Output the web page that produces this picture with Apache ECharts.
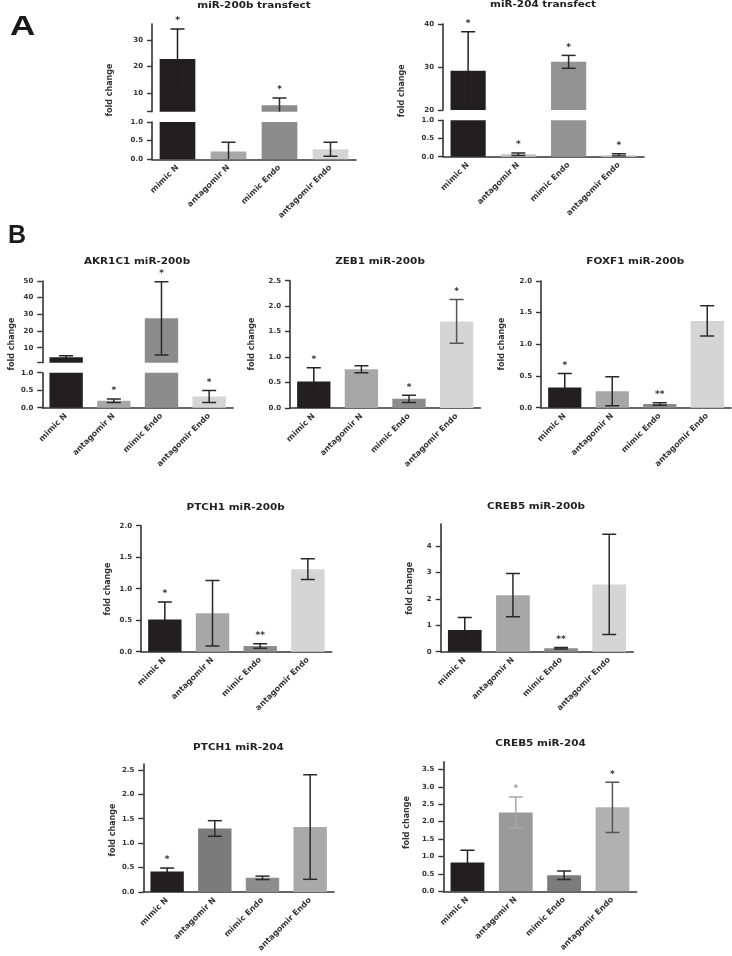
<!DOCTYPE html>
<html><head><meta charset="utf-8">
<script src="https://cdn.jsdelivr.net/npm/echarts@6/dist/echarts.min.js"></script>
<style>html,body{margin:0;padding:0;background:#fff}#c{width:732px;height:956px}</style>
</head><body><div id="c"></div>
<script>
// ---------- data ----------
const categories = ['mimic N', 'antagomir N', 'mimic Endo', 'antagomir Endo'];

const a1Mean = [22.8, 0.21, 5.4, 0.27];
const a1Sd   = [11.3, 0.25, 2.8, 0.19];
const a1Sig  = ['*', '', '*', ''];

const a2Mean = [29.1, 0.07, 31.2, 0.05];
const a2Sd   = [9.1, 0.035, 1.5, 0.03];
const a2Sig  = ['*', '*', '*', '*'];

const akrMean = [4.3, 0.2, 27.6, 0.32];
const akrSd   = [0.9, 0.05, 22.0, 0.17];
const akrSig  = ['', '*', '*', '*'];

const zebMean = [0.52, 0.76, 0.18, 1.70];
const zebSd   = [0.27, 0.07, 0.07, 0.43];
const zebSig  = ['*', '', '*', '*'];

const foxMean = [0.32, 0.26, 0.06, 1.37];
const foxSd   = [0.22, 0.23, 0.02, 0.24];
const foxSig  = ['*', '', '**', ''];

const ptch200Mean = [0.51, 0.61, 0.09, 1.31];
const ptch200Sd   = [0.28, 0.52, 0.035, 0.165];
const ptch200Sig  = ['*', '', '**', ''];

const creb200Mean = [0.82, 2.14, 0.13, 2.55];
const creb200Sd   = [0.48, 0.82, 0.03, 1.9];
const creb200Sig  = ['', '', '**', ''];

const ptch204Mean = [0.42, 1.30, 0.29, 1.33];
const ptch204Sd   = [0.07, 0.16, 0.035, 1.07];
const ptch204Sig  = ['*', '', '', ''];

const creb204Mean = [0.83, 2.26, 0.46, 2.41];
const creb204Sd   = [0.35, 0.45, 0.12, 0.72];
const creb204Sig  = ['', '*', '', '*'];

// tick values
const a1UpperTicks = [10, 20, 30];
const a2UpperTicks = [20, 30, 40];
const akrUpperTicks = [10, 20, 30, 40, 50];
const brokenLowerTicks = [0, 0.5, 1.0];
const ticks25 = [0, 0.5, 1.0, 1.5, 2.0, 2.5];
const ticks20 = [0, 0.5, 1.0, 1.5, 2.0];
const ticks4 = [0, 1, 2, 3, 4];
const ticks35 = [0, 0.5, 1.0, 1.5, 2.0, 2.5, 3.0, 3.5];

// ---------- styles ----------
const FONT = '"DejaVu Sans"';
const AX = '#333333';
const colorsStd = ['#231f20', '#a7a7a7', '#8c8c8c', '#d5d5d5'];
const colorsA2  = ['#231f20', '#c6c6c6', '#939393', '#d8d8d8'];
const colorsB6  = ['#231f20', '#7b7b7b', '#8d8d8d', '#a9a9a9'];
const colorsB7  = ['#231f20', '#9a9a9a', '#7c7c7c', '#b1b1b1'];
const errStd = ['#231f20', '#2a2a2a', '#2a2a2a', '#2a2a2a'];
const errB2 = ['#231f20', '#2a2a2a', '#2a2a2a', '#555555'];
const errB7 = ['#231f20', '#a8a8a8', '#2a2a2a', '#555555'];

const option = { animation: false, grid: [], xAxis: [], yAxis: [], series: [], graphic: [] };

function fmt(d) { return v => Number(v).toFixed(d); }

function errRender(colors, min, max) {
  return function (params, api) {
    const i = api.value(0), lo = api.value(1), hi = api.value(2);
    if (hi <= min || lo >= max) return null;
    const loC = Math.max(lo, min), hiC = Math.min(hi, max);
    const pHi = api.coord([i, hiC]), pLo = api.coord([i, loC]);
    const x = pHi[0], w = 7;
    const st = { stroke: colors[params.dataIndex], lineWidth: 1.5 };
    const children = [{ type: 'line', shape: { x1: x, y1: pHi[1], x2: x, y2: pLo[1] }, style: st }];
    if (hi <= max) children.push({ type: 'line', shape: { x1: x - w, y1: pHi[1], x2: x + w, y2: pHi[1] }, style: st });
    if (lo >= min) children.push({ type: 'line', shape: { x1: x - w, y1: pLo[1], x2: x + w, y2: pLo[1] }, style: st });
    return { type: 'group', children: children };
  };
}
function starRender(sig, min, max, colors) {
  return function (params, api) {
    const i = api.value(0), hi = api.value(1);
    const s = sig[params.dataIndex];
    if (!s || hi < min || hi > max) return null;
    const p = api.coord([i, hi]);
    return { type: 'text', x: p[0], y: p[1] - 8,
      style: { text: s, align: 'center', verticalAlign: 'middle', font: 'bold 9px ' + FONT,
        fill: colors[params.dataIndex] === '#a8a8a8' ? '#9a9a9a' : '#333' } };
  };
}

function addSeg(p, seg, showX) {
  const gi = option.grid.length;
  option.grid.push({ left: p.left, top: seg.top, width: p.width, height: seg.height });
  option.xAxis.push({ type: 'category', gridIndex: gi, data: categories, show: showX,
    axisLine: { show: true, lineStyle: { color: AX, width: 1.6 } }, axisTick: { show: false },
    axisLabel: { rotate: 45, margin: 7, interval: 0, color: '#333', fontFamily: FONT, fontWeight: 'bold', fontSize: 8 } });
  option.yAxis.push({ type: 'value', gridIndex: gi, min: seg.min, max: seg.max, splitLine: { show: false },
    axisLine: { show: true, lineStyle: { color: AX, width: 1.6 } },
    axisTick: { show: true, length: 5, lineStyle: { color: AX, width: 1.4 }, customValues: seg.tickVals },
    axisLabel: { customValues: seg.labelVals, formatter: fmt(seg.dec), margin: 9, color: '#333',
      fontFamily: FONT, fontWeight: 'bold', fontSize: 7 } });
  const data = p.mean.map((v, i) => (v > seg.min ? { value: v, itemStyle: { color: p.colors[i] } } : '-'));
  option.series.push({ type: 'bar', xAxisIndex: gi, yAxisIndex: gi, data: data, barWidth: '70%', clip: true, silent: true });
  option.series.push({ type: 'custom', xAxisIndex: gi, yAxisIndex: gi, clip: true, silent: true, z: 4,
    data: p.mean.map((v, i) => [i, v - p.sd[i], v + p.sd[i]]), renderItem: errRender(p.err, seg.min, seg.max) });
  option.series.push({ type: 'custom', xAxisIndex: gi, yAxisIndex: gi, silent: true, z: 5,
    data: p.mean.map((v, i) => [i, v + p.sd[i]]), renderItem: starRender(p.sig, seg.min, seg.max, p.err) });
}

function addPanel(p) {
  if (p.upper) { addSeg(p, p.upper, false); }
  addSeg(p, p.lower, true);
  option.graphic.push({ type: 'text', x: p.tx, y: p.ty, scaleX: 1.1,
    style: { text: p.title, align: 'center', verticalAlign: 'middle', font: 'bold 9.5px ' + FONT, fill: '#222' } });
  option.graphic.push({ type: 'text', x: p.lx, y: p.ly, rotation: Math.PI / 2,
    style: { text: 'fold change', align: 'center', verticalAlign: 'middle', font: 'bold 8px ' + FONT, fill: '#333' } });
}

const lowerBroken = (top, height) => ({ top: top, height: height, min: 0, max: 1, tickVals: brokenLowerTicks, labelVals: brokenLowerTicks, dec: 1 });

addPanel({ title: 'miR-200b transfect', tx: 254, ty: 5.5, lx: 110, ly: 90, left: 152, width: 204,
  mean: a1Mean, sd: a1Sd, sig: a1Sig, colors: colorsStd, err: errStd,
  upper: { top: 24, height: 87.7, min: 3, max: 36, tickVals: [3].concat(a1UpperTicks), labelVals: a1UpperTicks, dec: 0 },
  lower: lowerBroken(122, 37.3) });

addPanel({ title: 'miR-204 transfect', tx: 543, ty: 5, lx: 401.7, ly: 90.8, left: 443, width: 201,
  mean: a2Mean, sd: a2Sd, sig: a2Sig, colors: colorsA2, err: errStd,
  upper: { top: 24, height: 86, min: 20, max: 40, tickVals: a2UpperTicks, labelVals: a2UpperTicks, dec: 0 },
  lower: lowerBroken(120.3, 36.4) });

addPanel({ title: 'AKR1C1 miR-200b', tx: 137, ty: 261.7, lx: 11.7, ly: 344, left: 42.3, width: 190.7,
  mean: akrMean, sd: akrSd, sig: akrSig, colors: colorsStd, err: errStd,
  upper: { top: 281, height: 81.7, min: 1, max: 50, tickVals: [1].concat(akrUpperTicks), labelVals: akrUpperTicks, dec: 0 },
  lower: lowerBroken(372.7, 35) });

addPanel({ title: 'ZEB1 miR-200b', tx: 380, ty: 261.7, lx: 252, ly: 344, left: 290, width: 190.4,
  mean: zebMean, sd: zebSd, sig: zebSig, colors: colorsStd, err: errB2,
  lower: { top: 280.7, height: 127.3, min: 0, max: 2.5, tickVals: ticks25, labelVals: ticks25, dec: 1 } });

addPanel({ title: 'FOXF1 miR-200b', tx: 635.3, ty: 261.7, lx: 501.7, ly: 344, left: 541, width: 190,
  mean: foxMean, sd: foxSd, sig: foxSig, colors: colorsStd, err: errStd,
  lower: { top: 281, height: 126.7, min: 0, max: 2.0, tickVals: ticks20, labelVals: ticks20, dec: 1 } });

addPanel({ title: 'PTCH1 miR-200b', tx: 235.7, ty: 507.5, lx: 108, ly: 589, left: 141, width: 190.7,
  mean: ptch200Mean, sd: ptch200Sd, sig: ptch200Sig, colors: colorsStd, err: errStd,
  lower: { top: 525.7, height: 126, min: 0, max: 2.0, tickVals: ticks20, labelVals: ticks20, dec: 1 } });

addPanel({ title: 'CREB5 miR-200b', tx: 536, ty: 506.7, lx: 409.7, ly: 588.3, left: 440.7, width: 192.6,
  mean: creb200Mean, sd: creb200Sd, sig: creb200Sig, colors: colorsStd, err: errStd,
  lower: { top: 524, height: 127.7, min: 0, max: 4.84, tickVals: ticks4, labelVals: ticks4, dec: 0 } });

addPanel({ title: 'PTCH1 miR-204', tx: 238.5, ty: 747.5, lx: 113, ly: 830, left: 143.3, width: 190.7,
  mean: ptch204Mean, sd: ptch204Sd, sig: ptch204Sig, colors: colorsB6, err: errStd,
  lower: { top: 764, height: 128, min: 0, max: 2.62, tickVals: ticks25, labelVals: ticks25, dec: 1 } });

addPanel({ title: 'CREB5 miR-204', tx: 540.5, ty: 743.3, lx: 407, ly: 822.5, left: 443.3, width: 193.3,
  mean: creb204Mean, sd: creb204Sd, sig: creb204Sig, colors: colorsB7, err: errB7,
  lower: { top: 761.7, height: 129.6, min: 0, max: 3.72, tickVals: ticks35, labelVals: ticks35, dec: 1 } });

option.graphic.push({ type: 'text', x: 10, y: 27.8, scaleX: 1.3,
  style: { text: 'A', verticalAlign: 'middle', font: 'bold 27px "Liberation Sans"', fill: '#1a1a1a' } });
option.graphic.push({ type: 'text', x: 8, y: 235.8,
  style: { text: 'B', verticalAlign: 'middle', font: 'bold 25px "Liberation Sans"', fill: '#1a1a1a' } });

const chart = echarts.init(document.getElementById('c'), null, { renderer: 'canvas', width: 732, height: 956 });
chart.setOption(option);
</script>
</body></html>
